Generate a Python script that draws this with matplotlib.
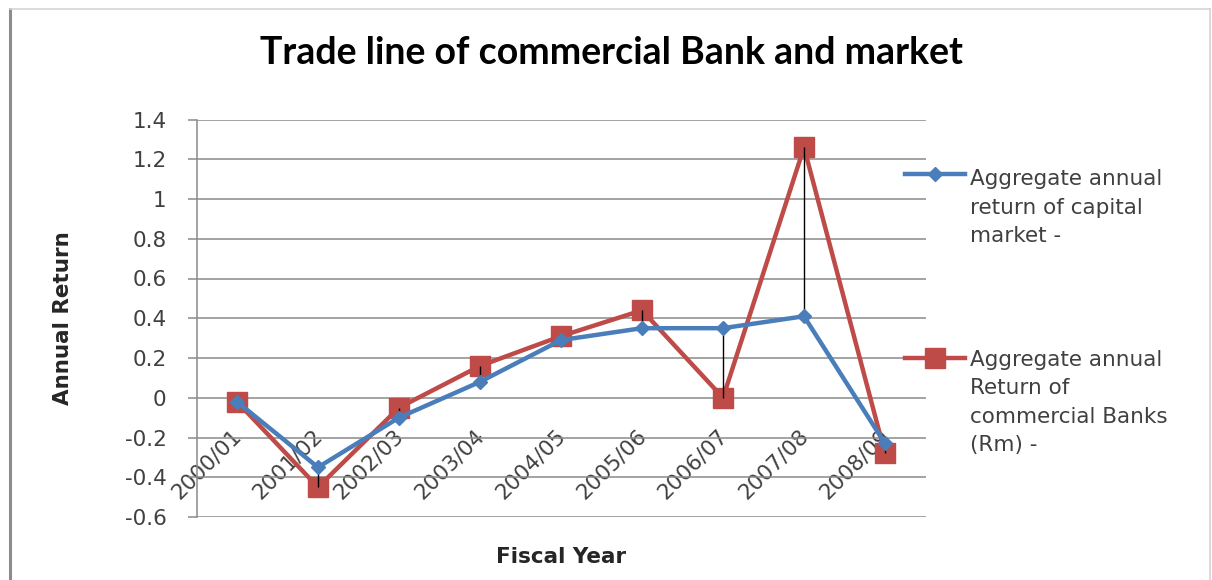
import matplotlib
matplotlib.use("Agg")
import matplotlib.pyplot as plt
import matplotlib.transforms as mtransforms
from matplotlib.lines import Line2D
import numpy as np

# Fiscal years and annual returns
years = ['2000/01', '2001/02', '2002/03', '2003/04', '2004/05',
         '2005/06', '2006/07', '2007/08', '2008/09']
market_return = [-0.02, -0.35, -0.10, 0.08, 0.29, 0.35, 0.35, 0.41, -0.23]
bank_return = [-0.02, -0.45, -0.05, 0.16, 0.31, 0.44, 0.00, 1.26, -0.28]
y_ticks = [-0.6, -0.4, -0.2, 0, 0.2, 0.4, 0.6, 0.8, 1, 1.2, 1.4]

market_label = ['Aggregate annual', 'return of capital', 'market -']
bank_label = ['Aggregate annual', 'Return of', 'commercial Banks', '(Rm) -']

BLUE = '#4a7ebb'
RED = '#be4b48'
GRID = '#8a8a8a'
TXT = '#404040'

W, H = 1212, 580
fig = plt.figure(figsize=(W / 100, H / 100), dpi=100)
fig.patch.set_facecolor('white')

# plot area in pixels: left 196.5, right 925.5, top 119.5, bottom 517
ax = fig.add_axes([196.5 / W, 1 - 517 / H, 729 / W, 397.5 / H])

x = np.arange(len(years))

# high-low lines between the two series
ax.vlines(x, np.minimum(market_return, bank_return), np.maximum(market_return, bank_return),
          color='black', linewidth=1.0, zorder=4)

ax.plot(x, bank_return, '-s', color=RED, linewidth=3.2, markersize=14,
        markerfacecolor=RED, markeredgecolor=RED, zorder=3)
ax.plot(x, market_return, '-D', color=BLUE, linewidth=3.2, markersize=7,
        markerfacecolor=BLUE, markeredgecolor=BLUE, zorder=5)

ax.set_xlim(-0.5, len(years) - 0.5)
ax.set_ylim(-0.6, 1.4)
ax.set_yticks(y_ticks)
ax.set_yticklabels(['%g' % v for v in y_ticks])
ax.grid(axis='y', color=GRID, linewidth=1.1)
ax.set_axisbelow(True)

for s in ['top', 'right']:
    ax.spines[s].set_visible(False)
ax.spines['left'].set_color(GRID)
ax.spines['left'].set_linewidth(1.1)
ax.spines['bottom'].set_position(('data', 0))
ax.spines['bottom'].set_color('none')

ax.tick_params(axis='y', length=6.5, width=1.1, color=GRID, pad=15,
               labelsize=15.5, labelcolor=TXT)
ax.set_xticks(x)
ax.set_xticklabels(years, rotation=45, ha='right', va='center',
                   rotation_mode='anchor', fontsize=15.5, color=TXT)
ax.tick_params(axis='x', length=0, pad=0)
shift = mtransforms.ScaledTranslation(1 / 100, -35 / 100, fig.dpi_scale_trans)
for lbl in ax.get_xticklabels():
    lbl.set_transform(lbl.get_transform() + shift)

ax.set_ylabel('Annual Return', fontsize=15.5, fontweight='bold', color='#262626', va='center')
ax.yaxis.set_label_coords((63 - 196.5) / 729, 0.5)
ax.set_xlabel('Fiscal Year', fontsize=15.5, fontweight='bold', color='#262626', va='center')
ax.xaxis.set_label_coords(0.5, (517 - 557) / 397.5)

fig.text(611 / W, 1 - 64 / H, 'Trade line of commercial Bank and market',
         ha='center', va='baseline', fontsize=27, fontweight='bold',
         family='Lato', color='black')

# legend drawn to the right of the plot area
def px_ax(px, py):
    return (px - 196.5) / 729, (517 - py) / 397.5

for color, marker, ms, hy, ty, lines in [
        (BLUE, 'D', 7, 174, 185, market_label),
        (RED, 's', 14, 358, 366, bank_label)]:
    x0, yy = px_ax(905, hy)
    x1, _ = px_ax(965, hy)
    xm, _ = px_ax(935, hy)
    ax.add_line(Line2D([x0, x1], [yy, yy], color=color, linewidth=3.2,
                       transform=ax.transAxes, clip_on=False))
    ax.add_line(Line2D([xm], [yy], marker=marker, markersize=ms, color=color,
                       transform=ax.transAxes, clip_on=False))
    for i, line in enumerate(lines):
        tx, tyy = px_ax(970, ty + 28.5 * i)
        ax.text(tx, tyy, line, transform=ax.transAxes, ha='left', va='baseline',
                fontsize=15.5, color=TXT)

# chart frame
fig.add_artist(Line2D([10 / W, 10 / W], [0, 1 - 9 / H], color='#8c8c8c', linewidth=2.2))
fig.add_artist(Line2D([10 / W, 1210 / W], [1 - 9 / H, 1 - 9 / H], color='#d4d4d4', linewidth=1.2))
fig.add_artist(Line2D([1210 / W, 1210 / W], [0, 1 - 9 / H], color='#d4d4d4', linewidth=1.2))

fig.savefig('out.png', dpi=100)
